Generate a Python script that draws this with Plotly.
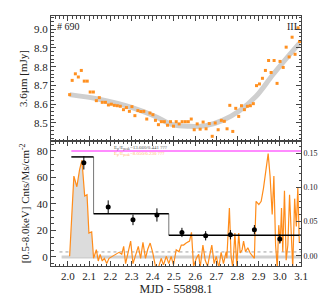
import plotly.graph_objects as go

# ---- top panel: 3.6 micron light curve ----
ir_t = [2.008, 2.020, 2.035, 2.049, 2.063, 2.077, 2.091, 2.105, 2.120, 2.134, 2.148, 2.162, 2.177,
        2.191, 2.205, 2.219, 2.233, 2.247, 2.262, 2.276, 2.290, 2.302, 2.316, 2.330, 2.344, 2.358,
        2.372, 2.387, 2.401, 2.413, 2.427, 2.441, 2.455, 2.470, 2.484, 2.498, 2.511, 2.525, 2.539,
        2.554, 2.568, 2.582, 2.596, 2.610, 2.624, 2.638, 2.652, 2.667, 2.681, 2.695, 2.709, 2.724,
        2.738, 2.751, 2.764, 2.778, 2.792, 2.806, 2.819, 2.833, 2.847, 2.861, 2.875, 2.890, 2.904,
        2.918, 2.932, 2.947, 2.959, 2.973, 2.987, 3.001, 3.016, 3.030, 3.044, 3.058, 3.072, 3.086, 3.093]
ir_f = [8.651, 8.727, 8.762, 8.745, 8.780, 8.723, 8.723, 8.665, 8.665, 8.619, 8.635, 8.610, 8.610,
        8.596, 8.600, 8.594, 8.592, 8.589, 8.571, 8.582, 8.562, 8.587, 8.539, 8.566, 8.561, 8.562,
        8.521, 8.553, 8.544, 8.514, 8.491, 8.507, 8.507, 8.488, 8.507, 8.483, 8.507, 8.495, 8.507,
        8.507, 8.507, 8.521, 8.464, 8.495, 8.467, 8.505, 8.469, 8.497, 8.429, 8.500, 8.464, 8.514,
        8.509, 8.469, 8.594, 8.455, 8.578, 8.535, 8.592, 8.571, 8.589, 8.592, 8.603, 8.699, 8.708,
        8.738, 8.780, 8.833, 8.769, 8.833, 8.711, 8.828, 8.796, 8.904, 8.852, 8.957, 8.866, 9.007, 8.934]

model_t = [2.008, 2.141, 2.300, 2.410, 2.495, 2.573, 2.652, 2.730, 2.810, 2.888, 2.967, 3.045, 3.093]
model_f = [8.651, 8.628, 8.583, 8.536, 8.491, 8.482, 8.486, 8.514, 8.565, 8.642, 8.757, 8.863, 8.926]

# ---- bottom panel: X-ray light curve ----
xr_t = [2.008, 2.028, 2.042, 2.055, 2.066, 2.079, 2.090, 2.099, 2.112, 2.121, 2.134, 2.143, 2.152,
        2.162, 2.172, 2.183, 2.194, 2.209, 2.225, 2.241, 2.254, 2.263, 2.272, 2.285, 2.296, 2.307,
        2.319, 2.332, 2.343, 2.354, 2.366, 2.377, 2.388, 2.400, 2.414, 2.429, 2.440, 2.451, 2.464,
        2.476, 2.487, 2.498, 2.511, 2.524, 2.535, 2.546, 2.558, 2.574, 2.583, 2.593, 2.606, 2.617,
        2.624, 2.637, 2.648, 2.659, 2.668, 2.679, 2.690, 2.700, 2.712, 2.723, 2.734, 2.747, 2.750,
        2.762, 2.770, 2.778, 2.788, 2.797, 2.806, 2.813, 2.822, 2.829, 2.838, 2.849, 2.860, 2.873,
        2.880, 2.884, 2.888, 2.901, 2.912, 2.923, 2.935, 2.945, 2.954, 2.964, 2.972, 2.980, 2.988,
        2.995, 3.002, 3.008, 3.014, 3.022, 3.030, 3.038, 3.046, 3.054, 3.061, 3.070, 3.078, 3.085, 3.092]
xr_c = [0.5, 61, 53, 66, 73, 46, 47, 18, 19, -1, 5.5, -3, 2,
        -3, -1, -5, -1, 0.5, 2, 3.5, 2, 8, -5, 3.5, 12, -5,
        0.5, 8, -1, 11, -1, 6, 10.5, 3.5, -8, -7, -1, -6, 0.5,
        -5, 0.5, -6, 5.5, 4, 9, 9, 10.5, 12, 18.6, -7, -1, 2,
        -8, 9, -2.5, -7, 0.5, 9, -5, 0.5, -8, 3.5, -5, 4, -1,
        37, 0.5, -8, 18, -7, 18, 3, 5.5, 12, 4, 7, 3, 0.5,
        -1, 22.5, 42, 39.5, 42, 52, 68, 78, 61, 32, 61, 9, -8,
        24, 10.5, 37, 4, 50, -2.5, 9, 47, 13.5, -8, 44, 23, 52.6, 10.5]

flare_t = [2.008, 2.028, 2.042, 2.055, 2.066, 2.079, 2.090, 2.099, 2.112, 2.120]
flare_c = [0.5, 61, 53, 66, 73, 46, 47, 18, 19, 0]

bin_t = [2.075, 2.190, 2.307, 2.420, 2.538, 2.650, 2.767, 2.880, 3.000]
bin_c = [71, 37.7, 28, 31.7, 18.5, 16, 16.8, 20.6, 13.6]
bin_e = [5, 5, 4, 5, 3.5, 3.5, 3.5, 3.5, 3.5]

block_edges = [2.016, 2.121, 2.476, 3.1]
block_vals = [75.5, 32.7, 16.4]

mag_level = 80
dot_level = 3.8

ORANGE = "#FF8C1A"
FONT = "Liberation Serif"

fig = go.Figure()

# top panel
fig.add_trace(go.Scatter(x=model_t, y=model_f, mode="lines", line=dict(color="#CFCFCF", width=5, shape="spline"),
                         xaxis="x2", yaxis="y2", showlegend=False))
fig.add_trace(go.Scatter(x=ir_t, y=ir_f, mode="markers", marker=dict(color="#FF9020", size=3, symbol="square"),
                         xaxis="x2", yaxis="y2", showlegend=False))

# bottom panel
fig.add_trace(go.Scatter(x=[1.97, 3.1], y=[0, 0], mode="lines", line=dict(color="#D0D0D0", width=3),
                         showlegend=False))
fig.add_trace(go.Scatter(x=[1.96, 3.1], y=[dot_level, dot_level], mode="lines",
                         line=dict(color="#888888", width=0.8, dash="dot"), showlegend=False))
fig.add_trace(go.Scatter(x=flare_t, y=flare_c, mode="lines", line=dict(width=0), fill="tozeroy",
                         fillcolor="#DCDCDC", showlegend=False))
fig.add_trace(go.Scatter(x=xr_t, y=xr_c, mode="lines", line=dict(color=ORANGE, width=1.2), showlegend=False))
fig.add_trace(go.Scatter(x=[2.016, 3.1], y=[mag_level, mag_level], mode="lines",
                         line=dict(color="#FF66FF", width=1.5), showlegend=False))

# blocks: grey verticals, black horizontals
vx, vy, hx, hy = [], [], [], []
for i in range(1, len(block_vals)):
    vx += [block_edges[i], block_edges[i], None]
    vy += [block_vals[i - 1], block_vals[i], None]
for i, v in enumerate(block_vals):
    hx += [block_edges[i], block_edges[i + 1], None]
    hy += [v, v, None]
fig.add_trace(go.Scatter(x=vx, y=vy, mode="lines", line=dict(color="#777777", width=1), showlegend=False))
fig.add_trace(go.Scatter(x=hx, y=hy, mode="lines", line=dict(color="black", width=1.5), showlegend=False))

fig.add_trace(go.Scatter(x=bin_t, y=bin_c, mode="markers",
                         marker=dict(color="black", size=5),
                         error_y=dict(type="data", array=bin_e, color="black", thickness=1, width=0),
                         showlegend=False))

axis_common = dict(showline=True, linecolor="#444444", linewidth=1, ticks="inside", tickcolor="#444444",
                   showgrid=False, zeroline=False, tickfont=dict(family=FONT, size=11, color="#222222"))

fig.update_layout(
    width=327, height=295,
    margin=dict(l=43, r=34, t=8, b=37),
    plot_bgcolor="white", paper_bgcolor="white",
    font=dict(family=FONT, color="#222222"),
    xaxis=dict(**axis_common, range=[1.92, 3.1], domain=[0, 1], anchor="y", dtick=0.1, tick0=2.0,
               tickformat=".1f", ticklen=5, mirror="ticks",
               minor=dict(dtick=0.02, ticklen=2.5, ticks="inside", tickcolor="#444444"),
               title=dict(text="MJD - 55898.1", font=dict(family=FONT, size=12), standoff=2)),
    xaxis2=dict(**axis_common, range=[1.92, 3.1], domain=[0, 1], anchor="y2", matches="x",
                dtick=0.1, tick0=2.0, ticklen=5, mirror="ticks", showticklabels=False,
                minor=dict(dtick=0.02, ticklen=2.5, ticks="inside", tickcolor="#444444")),
    yaxis=dict(**axis_common, range=[-6.8, 87.5], domain=[0, 0.5], anchor="x", dtick=20, ticklen=5,
               minor=dict(dtick=5, ticklen=2.5, ticks="inside", tickcolor="#444444"),
               title=dict(text="[0.5-8.0keV] Cnts/Ms/cm<sup>-2</sup>", font=dict(family=FONT, size=11), standoff=4)),
    yaxis2=dict(**axis_common, range=[8.404, 9.07], domain=[0.5, 1], anchor="x2", dtick=0.1, ticklen=5,
                tickformat=".1f", mirror="ticks",
                minor=dict(dtick=0.02, ticklen=2.5, ticks="inside", tickcolor="#444444"),
                title=dict(text="3.6µm [mJy]", font=dict(family=FONT, size=11), standoff=4)),
    yaxis3=dict(showline=True, linecolor="#444444", linewidth=1, ticks="inside", tickcolor="#444444",
                showgrid=False, zeroline=False, overlaying="y", side="right", anchor="x",
                range=[-0.0146, 0.1676], dtick=0.05, tickformat=".2f", ticklen=5,
                tickfont=dict(family=FONT, size=8, color="#222222"),
                minor=dict(dtick=0.01, ticklen=2.5, ticks="inside", tickcolor="#444444"),
                title=dict(text="3.6µm [mJy]", font=dict(family=FONT, size=7), standoff=2)),
)

# dummy trace for right axis
fig.add_trace(go.Scatter(x=[None], y=[None], yaxis="y3", showlegend=False))

fig.add_annotation(x=0.015, y=0.99, xref="paper", yref="paper", text="# 690", showarrow=False,
                   xanchor="left", yanchor="top", font=dict(family=FONT, size=10, color="#222222"))
fig.add_annotation(x=0.99, y=0.99, xref="paper", yref="paper", text="III", showarrow=False,
                   xanchor="right", yanchor="top", font=dict(family=FONT, size=10, color="#222222"))
fig.add_annotation(x=2.21, y=82.5, xref="x", yref="y", showarrow=False, xanchor="left",
                   text="E<sub>p</sub>/E<sub>peak</sub>=13.660/0.441 ???",
                   font=dict(family=FONT, size=5, color="#555555"))
fig.add_annotation(x=2.21, y=77.5, xref="x", yref="y", showarrow=False, xanchor="left",
                   text="E<sub>p</sub>/E<sub>peak</sub>=8.050/0.230 ???",
                   font=dict(family=FONT, size=5, color="#FFB870"))

fig.write_html("out.html")
